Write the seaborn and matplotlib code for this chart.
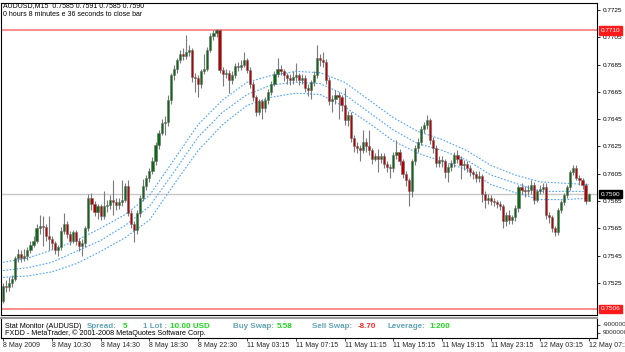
import numpy as np
import pandas as pd
import matplotlib
matplotlib.use("Agg")
import matplotlib.pyplot as plt
import seaborn as sns

sns.set_theme(style="white")
plt.rcParams['font.family'] = ['Liberation Sans', 'DejaVu Sans']

# ---- data (prices x 10000) ----
open_pips = [
    7512,7523,7522,7525,7528,7543,7546,7543,7545,7549,
    7553,7556,7565,7567,7566,7559,7557,7554,7549,7551,
    7563,7568,7561,7556,7562,7556,7552,7554,7565,7587,
    7583,7577,7581,7574,7581,7582,7586,7584,7582,7584,
    7586,7596,7576,7568,7564,7576,7587,7596,7602,7607,
    7614,7626,7635,7642,7643,7659,7677,7682,7688,7693,
    7691,7694,7696,7676,7675,7671,7680,7682,7696,7706,
    7708,7710,7681,7678,7679,7674,7677,7684,7683,7685,
    7688,7681,7671,7661,7650,7658,7653,7659,7665,7671,
    7678,7682,7680,7677,7675,7674,7676,7677,7674,7675,
    7668,7666,7672,7677,7690,7688,7687,7674,7658,7660,
    7663,7661,7655,7644,7648,7631,7625,7624,7622,7628,
    7625,7622,7616,7618,7616,7618,7612,7610,7609,7619,
    7621,7614,7605,7600,7592,7614,7624,7628,7638,7641,
    7644,7630,7624,7613,7615,7614,7606,7610,7613,7619,
    7616,7611,7612,7609,7606,7605,7602,7603,7590,7586,
    7587,7585,7584,7583,7581,7570,7575,7571,7573,7580,
    7595,7593,7592,7593,7597,7586,7592,7594,7595,7575,
    7573,7565,7562,7578,7584,7589,7595,7606,7609,7602,
    7600,7597,7585]
close_pips = [
    7523,7522,7525,7528,7543,7546,7543,7545,7549,7553,
    7556,7565,7567,7566,7559,7557,7554,7549,7551,7563,
    7568,7561,7556,7562,7556,7552,7554,7565,7587,7583,
    7577,7581,7574,7581,7582,7586,7584,7582,7584,7586,
    7596,7576,7568,7564,7576,7587,7596,7602,7607,7614,
    7626,7635,7642,7643,7659,7677,7682,7688,7693,7691,
    7694,7696,7676,7675,7671,7680,7682,7696,7706,7708,
    7710,7681,7678,7679,7674,7677,7684,7683,7685,7688,
    7681,7671,7661,7650,7658,7653,7659,7665,7671,7678,
    7682,7680,7677,7675,7674,7676,7677,7674,7675,7668,
    7666,7672,7677,7690,7688,7687,7674,7658,7660,7663,
    7661,7655,7644,7648,7631,7625,7624,7622,7628,7625,
    7622,7616,7618,7616,7618,7612,7610,7609,7619,7621,
    7614,7605,7600,7592,7614,7624,7628,7638,7641,7644,
    7630,7624,7613,7615,7614,7606,7610,7613,7619,7616,
    7611,7612,7609,7606,7605,7602,7603,7590,7586,7587,
    7585,7584,7583,7581,7570,7575,7571,7573,7580,7595,
    7593,7592,7593,7597,7586,7592,7594,7595,7575,7573,
    7565,7562,7578,7584,7589,7595,7606,7609,7602,7600,
    7597,7585,7590]
high_pips = [
    7525,7527,7529,7531,7545,7550,7549,7550,7551,7556,
    7559,7568,7575,7574,7568,7574,7559,7556,7553,7566,
    7576,7570,7563,7564,7564,7558,7557,7567,7590,7591,
    7585,7583,7583,7592,7586,7589,7600,7587,7587,7600,
    7598,7600,7578,7570,7578,7589,7601,7604,7609,7617,
    7628,7637,7645,7647,7663,7679,7685,7690,7696,7697,
    7707,7699,7697,7679,7677,7682,7693,7698,7708,7710,
    7711,7711,7683,7682,7681,7680,7686,7687,7688,7694,
    7690,7683,7673,7663,7660,7660,7661,7667,7673,7680,
    7690,7685,7682,7679,7678,7680,7686,7679,7678,7677,
    7671,7674,7680,7699,7693,7694,7689,7676,7663,7666,
    7665,7663,7668,7651,7650,7633,7628,7626,7637,7631,
    7637,7624,7620,7623,7620,7620,7614,7612,7621,7630,
    7623,7616,7607,7602,7616,7626,7631,7640,7643,7648,
    7646,7632,7626,7618,7618,7616,7612,7615,7621,7622,
    7618,7615,7614,7611,7608,7607,7607,7605,7592,7590,
    7589,7587,7586,7585,7583,7577,7578,7575,7582,7597,
    7598,7596,7597,7600,7599,7594,7597,7598,7598,7577,
    7575,7567,7580,7586,7591,7597,7608,7611,7611,7604,
    7602,7598,7591]
low_pips = [
    7510,7518,7519,7522,7526,7540,7540,7541,7542,7547,
    7551,7554,7561,7552,7556,7549,7550,7546,7545,7549,
    7561,7558,7553,7554,7553,7548,7545,7551,7563,7578,
    7574,7572,7571,7572,7577,7579,7575,7578,7579,7581,
    7584,7574,7565,7555,7561,7573,7585,7593,7599,7605,
    7611,7623,7633,7633,7640,7656,7674,7679,7686,7688,
    7689,7691,7672,7665,7661,7668,7678,7680,7694,7703,
    7705,7679,7669,7675,7664,7671,7675,7680,7681,7683,
    7679,7668,7658,7647,7648,7645,7650,7656,7663,7669,
    7676,7677,7673,7671,7670,7671,7673,7670,7671,7665,
    7662,7660,7669,7675,7684,7683,7671,7655,7650,7656,
    7645,7651,7641,7640,7628,7621,7620,7614,7620,7621,
    7619,7612,7614,7606,7613,7609,7606,7602,7606,7616,
    7611,7602,7596,7581,7588,7611,7621,7626,7635,7638,
    7627,7620,7610,7610,7610,7602,7599,7607,7610,7613,
    7601,7608,7606,7603,7601,7599,7599,7584,7580,7583,
    7582,7581,7580,7578,7565,7567,7568,7568,7570,7577,
    7590,7588,7589,7590,7583,7584,7590,7591,7572,7569,
    7562,7559,7560,7576,7582,7587,7593,7604,7600,7597,
    7594,7583,7585]

# envelope lines read every 8 bars
env_bars = [0, 8, 16, 24, 32, 40, 48, 56, 64, 72, 80, 88, 96, 104, 112,
            120, 128, 136, 144, 152, 160, 168, 176, 184, 192]
env_upper = [7540,7543,7549,7556,7565,7575,7589,7615,7641,7659,7672,7677,7680,
             7679,7672,7659,7646,7636,7630,7622,7611,7604,7599,7598,7597]
env_mid = [7534,7536,7540,7548,7556,7567,7581,7606,7632,7650,7663,7670,7672,
           7671,7663,7650,7637,7627,7622,7615,7604,7598,7592,7592,7592]
env_lower = [7529,7530,7533,7539,7548,7558,7571,7597,7622,7641,7655,7661,7664,
             7663,7654,7642,7629,7620,7614,7608,7597,7591,7586,7586,7587]

time_labels = ["8 May 2009", "8 May 10:30", "8 May 14:30", "8 May 18:30",
               "8 May 22:30", "11 May 03:15", "11 May 07:15", "11 May 11:15",
               "11 May 15:15", "11 May 19:15", "11 May 23:15", "12 May 03:15",
               "12 May 07:15"]
price_ticks = [0.7725, 0.7705, 0.7685, 0.7665, 0.7645, 0.7625, 0.7605,
               0.7585, 0.7565, 0.7545, 0.7525]
level_high = 0.7710
level_low = 0.7506
bid = 0.7590

o = np.array(open_pips) / 1e4
c = np.array(close_pips) / 1e4
h = np.array(high_pips) / 1e4
l = np.array(low_pips) / 1e4
xb = np.arange(len(c))

W, H = 625, 352
fig = plt.figure(figsize=(6.25, 3.52), dpi=100)
fig.patch.set_facecolor('white')

def fx(px):
    return px / W

def fy(py):
    return 1 - py / H

x0, x1 = (1 - 3) / 3.05, (597 - 3) / 3.05

ax = fig.add_axes([fx(1), fy(315), fx(597) - fx(1), fy(3) - fy(315)])
ax.set_facecolor('white')
ax.set_xlim(x0, x1)
ax.set_ylim(0.75014, 0.77301)

# level lines
ax.axhline(level_high, color='#ff8c8c', lw=1.4, zorder=1)
ax.axhline(level_low, color='#ff8c8c', lw=1.4, zorder=1)
ax.axhline(bid, color='#c8c8c8', lw=1.0, zorder=1)

# envelope (dotted blue)
env = pd.DataFrame({'bar': env_bars, 'upper': np.array(env_upper) / 1e4,
                    'mid': np.array(env_mid) / 1e4, 'lower': np.array(env_lower) / 1e4})
for col in ['upper', 'mid', 'lower']:
    sns.lineplot(data=env, x='bar', y=col, ax=ax, color='#4da3ff', lw=0.8,
                 linestyle=(0, (1.5, 1.5)), zorder=2)

# candles
up = c >= o
ax.vlines(xb, l, h, color='#7a7a7a', lw=0.8, zorder=3)
body_b = np.minimum(o, c)
body_h = np.maximum(np.abs(c - o), 0.00003)
ax.bar(xb, body_h, bottom=body_b, width=0.72,
       color=np.where(up, '#0b6b12', '#b80000'),
       edgecolor='#6e6e6e', linewidth=0.4, zorder=4)

ax.set_xlabel('')
ax.set_ylabel('')
ax.set_xticks([])
ax.yaxis.tick_right()
ax.set_yticks(price_ticks)
ax.set_yticklabels([f"{v:.4f}" for v in price_ticks], fontsize=4.6)
ax.tick_params(axis='y', which='both', right=True, length=2.5, width=0.6,
               pad=1.5, color='black', labelcolor='black')
for s in ax.spines.values():
    s.set_color('black')
    s.set_linewidth(0.8)

# price boxes on right
def price_box(val, fc):
    ax.annotate(f"{val:.4f}", xy=(1.0, val), xycoords=('axes fraction', 'data'),
                xytext=(2.5, 0), textcoords='offset points', fontsize=4.6,
                color='white', va='center', ha='left',
                bbox=dict(boxstyle='square,pad=0.25', fc=fc, ec=fc),
                annotation_clip=False)

price_box(level_high, '#ff1a1a')
price_box(bid, 'black')
price_box(level_low, '#ff1a1a')

# header text
fig.text(fx(3), fy(6), "AUDUSD,M15  0.7585 0.7591 0.7585 0.7590",
         fontsize=5.0, va='center', ha='left', color='black')
fig.text(fx(3), fy(15), "0 hours 8 minutes e 36 seconds to close bar",
         fontsize=5.0, va='center', ha='left', color='black')

# sub window
sub = fig.add_axes([fx(1), fy(338), fx(597) - fx(1), fy(318) - fy(338)])
sub.set_facecolor('white')
sub.set_xlim(x0, x1)
sub.set_ylim(-1, 1)
sub.yaxis.tick_right()
sub.set_yticks([0.35, -0.45])
sub.set_yticklabels(["-9000000", "9000000"], fontsize=4.6)
sub.tick_params(axis='y', length=2.5, width=0.6, pad=1.5)
sub.set_xticks(np.arange(0, 193, 16))
sub.set_xticklabels(time_labels, fontsize=5.0, ha='left')
sub.tick_params(axis='x', length=2.5, width=0.6, pad=0.5, bottom=True)
for s in sub.spines.values():
    s.set_color('black')
    s.set_linewidth(0.8)
sub.spines['top'].set_color('#9a9a9a')
sub.spines['top'].set_linewidth(1.5)

teal = '#62a3b5'
green = '#1ed81e'
red = '#ff2a2a'
y1 = fy(326)
fig.text(fx(5), y1, "Stat Monitor (AUDUSD)", fontsize=5.2, va='center', color='black')
items = [(87, "Spread:", teal), (123, "5", green), (143, "1 Lot :", teal),
         (170, "10.00 USD", green), (233, "Buy Swap:", teal), (277, "5.58", green),
         (312, "Sell Swap:", teal), (358, "-8.70", red), (388, "Leverage:", teal),
         (429, "1:200", green)]
for px, t, col in items:
    fig.text(fx(px), y1, t, fontsize=5.8, fontweight='bold', va='center',
             ha='left', color=col)
fig.text(fx(5), fy(333), "FXDD - MetaTrader, \u00a9 2001-2008 MetaQuotes Software Corp.",
         fontsize=5.2, va='center', color='black')

fig.savefig("out.png", dpi=100, facecolor='white')
